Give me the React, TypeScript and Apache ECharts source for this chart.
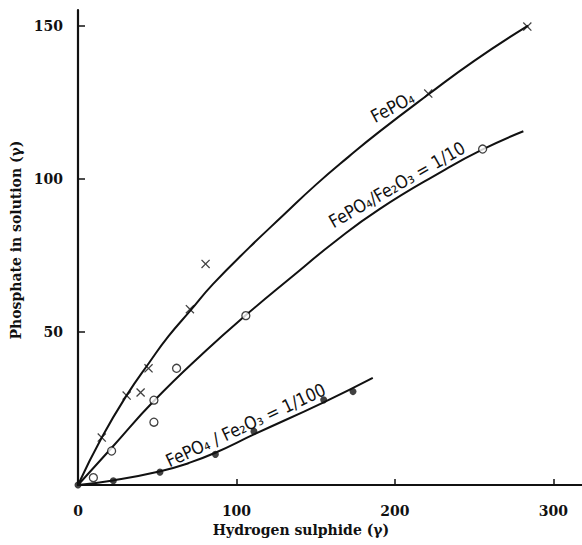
import React, { useEffect, useRef } from "react";
import * as echarts from "echarts";

// Axis ticks
const xTickValues = [0, 100, 200, 300];
const yTickValues = [50, 100, 150];

// FePO4 (crosses)
const fePO4X = [15, 30.7, 39.5, 44.5, 70.6, 80.5, 221, 283.5];
const fePO4Y = [15.5, 29.2, 30.2, 38.1, 57.4, 72.2, 127.8, 149.7];
const fePO4CurveX = [0, 15, 31, 45, 57, 71, 85, 108, 130, 150, 171, 190, 221, 250, 284];
const fePO4CurveY = [0, 15.5, 29.5, 40, 48.5, 57, 65.5, 77.5, 88.3, 98, 107.3, 115.3, 127.5, 138.5, 150];

// FePO4/Fe2O3 = 1/10 (open circles)
const ratio10X = [9.7, 21.2, 47.9, 47.9, 62.2, 105.9, 255.3];
const ratio10Y = [2.4, 11.1, 20.5, 27.7, 38.1, 55.3, 109.7];
const ratio10CurveX = [0, 21, 48, 81, 106, 135, 161, 190, 230, 255, 281];
const ratio10CurveY = [0, 12, 27.5, 44, 55.5, 68, 79, 90, 102.5, 109.5, 115.5];

// FePO4/Fe2O3 = 1/100 (filled dots)
const ratio100X = [0, 22.3, 51.7, 86.7, 111, 155, 173.5];
const ratio100Y = [0, 1.4, 4.2, 10, 17.5, 27.8, 30.5];
const ratio100CurveX = [0, 22, 52, 70, 87, 111, 155, 186];
const ratio100CurveY = [0, 1.5, 4.5, 7.2, 10.6, 16.5, 27, 35];

const curveLabels = [
  { text: "FePO₄", at: 202, curveX: fePO4CurveX, curveY: fePO4CurveY, angle: 28 },
  { text: "FePO₄/Fe₂O₃ = 1/10", at: 205, curveX: ratio10CurveX, curveY: ratio10CurveY, angle: 30 },
  { text: "FePO₄ / Fe₂O₃ = 1/100", at: 109, curveX: ratio100CurveX, curveY: ratio100CurveY, angle: 25 },
];

const zip = (xs: number[], ys: number[]) => xs.map((x, i) => [x, ys[i]]);

const interp = (xs: number[], ys: number[], x: number) => {
  for (let i = 1; i < xs.length; i++) {
    if (x <= xs[i]) {
      const t = (x - xs[i - 1]) / (xs[i] - xs[i - 1]);
      return ys[i - 1] + t * (ys[i] - ys[i - 1]);
    }
  }
  return ys[ys.length - 1];
};

const crossPath =
  "path://M0,1L1,0L5,4L9,0L10,1L6,5L10,9L9,10L5,6L1,10L0,9L4,5Z";

const serif = "'DejaVu Serif', serif";

export default function App() {
  const ref = useRef<HTMLDivElement>(null);

  useEffect(() => {
    if (!ref.current) return;
    const chart = echarts.init(ref.current, null, { renderer: "svg" });
    const curveStyle = { color: "#111", width: 2 };
    const curve = (xs: number[], ys: number[]) => ({
      type: "line",
      data: zip(xs, ys),
      smooth: 0.5,
      showSymbol: false,
      lineStyle: curveStyle,
      silent: true,
    });
    chart.setOption({
      animation: false,
      backgroundColor: "#fff",
      grid: { left: 78, right: 0, top: 10, bottom: 60 },
      xAxis: {
        type: "value",
        min: 0,
        max: 318,
        interval: 100,
        splitLine: { show: false },
        axisLine: { show: true, onZero: false, lineStyle: { color: "#111", width: 2.2 } },
        axisTick: { show: true, inside: true, length: 6, customValues: xTickValues, lineStyle: { color: "#111", width: 1.5 } },
        axisLabel: {
          customValues: xTickValues,
          margin: 19,
          color: "#111",
          fontFamily: serif,
          fontWeight: "bold",
          fontSize: 14,
        },
      },
      yAxis: {
        type: "value",
        min: 0,
        max: 155.1,
        interval: 50,
        splitLine: { show: false },
        axisLine: { show: true, onZero: false, lineStyle: { color: "#111", width: 2.2 } },
        axisTick: { show: true, inside: true, length: 7, customValues: yTickValues, lineStyle: { color: "#111", width: 1.5 } },
        axisLabel: {
          customValues: yTickValues,
          margin: 15,
          color: "#111",
          fontFamily: serif,
          fontWeight: "bold",
          fontSize: 14,
        },
      },
      series: [
        curve(fePO4CurveX, fePO4CurveY),
        curve(ratio10CurveX, ratio10CurveY),
        curve(ratio100CurveX, ratio100CurveY),
        {
          type: "scatter",
          data: zip(fePO4X, fePO4Y),
          symbol: crossPath,
          symbolSize: 9,
          itemStyle: { color: "#111" },
          z: 5,
        },
        {
          type: "scatter",
          data: zip(ratio10X, ratio10Y),
          symbol: "circle",
          symbolSize: 8,
          itemStyle: { color: "#fff", borderColor: "#111", borderWidth: 1.3 },
          z: 5,
        },
        {
          type: "scatter",
          data: zip(ratio100X, ratio100Y),
          symbol: "circle",
          symbolSize: 7,
          itemStyle: { color: "#111" },
          z: 5,
        },
      ],
    });

    const labelGraphics = curveLabels.map((l) => {
      const yv = interp(l.curveX, l.curveY, l.at);
      const p = chart.convertToPixel({ xAxisIndex: 0, yAxisIndex: 0 }, [l.at, yv]) as number[];
      const a = (l.angle * Math.PI) / 180;
      const off = 3;
      return {
        type: "text",
        x: p[0] - Math.sin(a) * off,
        y: p[1] - Math.cos(a) * off,
        rotation: a,
        scaleX: 0.88,
        style: {
          text: l.text,
          fill: "#111",
          font: "18px 'DejaVu Sans', sans-serif",
          textAlign: "center",
          textVerticalAlign: "bottom",
        },
        z: 10,
      };
    });

    chart.setOption({
      graphic: [
        ...labelGraphics,
        {
          type: "text",
          x: 301,
          y: 530,
          style: {
            text: "Hydrogen sulphide (γ)",
            fill: "#111",
            font: `bold 14px ${serif}`,
            textAlign: "center",
            textVerticalAlign: "middle",
          },
        },
        {
          type: "text",
          x: 16,
          y: 240,
          rotation: Math.PI / 2,
          style: {
            text: "Phosphate in solution (γ)",
            fill: "#111",
            font: `bold 14px ${serif}`,
            textAlign: "center",
            textVerticalAlign: "middle",
          },
        },
      ],
    });

    return () => chart.dispose();
  }, []);

  return (
    <div
      ref={ref}
      style={{ position: "absolute", left: 0, top: 0, width: 582, height: 545, background: "#fff" }}
    />
  );
}
